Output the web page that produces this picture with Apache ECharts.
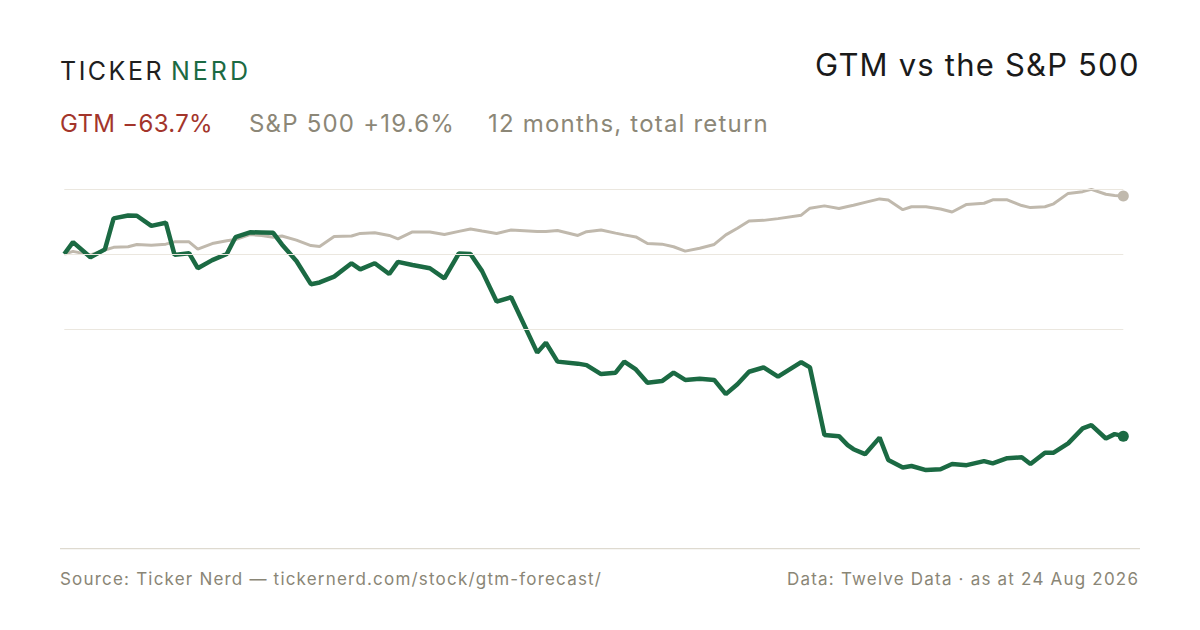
<!DOCTYPE html>
<html>
<head>
<meta charset="utf-8">
<script src="https://cdn.jsdelivr.net/npm/echarts@6/dist/echarts.min.js"></script>
<style>
  html, body { margin: 0; padding: 0; background: #ffffff; }
  #chart { width: 1200px; height: 630px; }
  #chart svg text { letter-spacing: 1.2px; }
</style>
</head>
<body>
<div id="chart"></div>
<script>
// Days since the start of the 12-month window (24 Aug 2025 -> 24 Aug 2026)
const dayOffsets = [0, 3, 9, 14, 17, 22, 25, 30, 35, 38,
  43, 46, 51, 56, 59, 64, 68, 72, 75, 80,
  85, 88, 93, 99, 102, 107, 112, 115, 120, 126,
  131, 136, 140, 144, 149, 154, 163, 166, 170, 177,
  180, 185, 190, 193, 197, 201, 206, 210, 214, 219,
  224, 228, 232, 236, 241, 246, 254, 257, 262, 267,
  270, 272, 276, 281, 284, 289, 292, 297, 302, 306,
  311, 317, 320, 325, 330, 333, 338, 341, 346, 351,
  354, 359, 362, 365];

// Cumulative total return, % (GTM)
const gtmReturn = [0, 4.1, -1.1, 1.6, 12.3, 13.3, 13.2, 9.7, 10.8, -0.3,
  0.3, -4.9, -2.1, 0, 5.8, 7.5, 7.4, 7.3, 3.3, -2.4,
  -10.4, -9.8, -7.8, -3.2, -5.3, -3.2, -6.9, -2.7, -3.8, -4.9,
  -8.4, 0.2, 0, -5.9, -16.4, -14.9, -34.0, -30.6, -37.1, -37.8,
  -38.3, -41.4, -40.9, -37.1, -39.8, -44.4, -43.8, -40.9, -43.4, -43.0,
  -43.4, -48.3, -44.9, -40.6, -39.1, -42.3, -37.3, -39.1, -62.4, -62.8,
  -65.9, -67.3, -69.0, -63.3, -71.0, -73.6, -73.1, -74.5, -74.2, -72.4,
  -72.8, -71.4, -72.2, -70.4, -70.1, -72.4, -68.5, -68.5, -65.3, -60.1,
  -59.0, -63.6, -62.1, -62.8];

// Cumulative total return, % (S&P 500)
const spxReturn = [0, 0.9, -0.3, 1.4, 2.3, 2.5, 3.3, 3.0, 3.4, 4.2,
  4.2, 1.7, 3.6, 4.6, 5.0, 6.7, 6.4, 5.8, 6.2, 4.8,
  2.9, 2.6, 6.0, 6.2, 7.1, 7.3, 6.4, 5.2, 7.6, 7.6,
  6.7, 7.8, 8.6, 7.9, 7.1, 8.3, 7.8, 7.8, 8.1, 6.4,
  7.7, 8.3, 7.2, 6.6, 5.9, 3.6, 3.4, 2.5, 1.0, 2.0,
  3.3, 6.6, 8.9, 11.4, 11.6, 12.2, 13.4, 15.8, 16.6, 15.7,
  16.4, 16.8, 17.8, 19.0, 18.6, 15.3, 16.3, 16.3, 15.5, 14.5,
  17.1, 17.5, 18.7, 18.7, 16.7, 16.0, 16.3, 17.3, 20.9, 21.5,
  22.3, 20.6, 20.2, 20.0];

// Horizontal reference lines (return %)
const gridValues = [22.3, 0, -26.1];

// Header / footer text
const brandLeft = 'TICKER';
const brandRight = 'NERD';
const titleText = 'GTM vs the S&P 500';
const gtmLabel = 'GTM \u221263.7%';
const spxLabel = 'S&P 500 +19.6%';
const periodLabel = '12 months, total return';
const sourceText = 'Source: Ticker Nerd \u2014 tickernerd.com/stock/gtm-forecast/';
const dataText = 'Data: Twelve Data \u00b7 as at 24 Aug 2026';

const GREEN = '#1b6a43';
const SPX = '#c0b9ad';
const FONT = 'Inter, "Noto Sans", sans-serif';

function buildData(values, color) {
  return values.map((v, i) => {
    const item = { value: [dayOffsets[i], v] };
    if (i === values.length - 1) {
      item.symbol = 'circle';
      item.symbolSize = 11;
      item.itemStyle = { color: color };
    }
    return item;
  });
}

const chart = echarts.init(document.getElementById('chart'), null, { renderer: 'svg' });

chart.setOption({
  animation: false,
  backgroundColor: '#ffffff',
  grid: { left: 64.3, right: 76.7, top: 169.9, bottom: 81.3, containLabel: false },
  xAxis: { type: 'value', min: 0, max: 365, show: false },
  yAxis: { type: 'value', min: -101.6, max: 29, show: false },
  series: [
    {
      name: 'grid',
      type: 'line',
      data: [],
      z: 1,
      silent: true,
      markLine: {
        silent: true,
        symbol: ['none', 'none'],
        label: { show: false },
        lineStyle: { color: '#ebe7df', width: 1, type: 'solid' },
        data: gridValues.map(v => ({ yAxis: v }))
      }
    },
    {
      name: 'S&P 500',
      type: 'line',
      z: 3,
      data: buildData(spxReturn, SPX),
      symbol: 'none',
      showSymbol: true,
      lineStyle: { color: SPX, width: 3 },
      itemStyle: { color: SPX },
      silent: true
    },
    {
      name: 'GTM',
      type: 'line',
      z: 4,
      data: buildData(gtmReturn, GREEN),
      symbol: 'none',
      showSymbol: true,
      lineStyle: { color: GREEN, width: 4.5 },
      itemStyle: { color: GREEN },
      silent: true
    }
  ],
  graphic: [
    { type: 'line', shape: { x1: 60, y1: 548.7, x2: 1140, y2: 548.7 },
      style: { stroke: '#dedad0', lineWidth: 1.2 }, silent: true },
    { type: 'text', left: 60, top: 58,
      style: { text: brandLeft, fill: '#1f1f1f', font: '400 25px ' + FONT } },
    { type: 'text', left: 171, top: 58,
      style: { text: brandRight, fill: GREEN, font: '400 25px ' + FONT } },
    { type: 'text', left: 815, top: 49,
      style: { text: titleText, fill: '#1a1a1a', font: '400 31px ' + FONT } },
    { type: 'text', left: 60, top: 111,
      style: { text: gtmLabel, fill: '#a3352b', font: '400 24px ' + FONT } },
    { type: 'text', left: 249, top: 111,
      style: { text: spxLabel, fill: '#8c8777', font: '400 24px ' + FONT } },
    { type: 'text', left: 488, top: 111,
      style: { text: periodLabel, fill: '#8c8777', font: '400 24px ' + FONT } },
    { type: 'text', left: 60, top: 570,
      style: { text: sourceText, fill: '#8a8676', font: '400 17px ' + FONT } },
    { type: 'text', left: 787, top: 570,
      style: { text: dataText, fill: '#8a8676', font: '400 17px ' + FONT } }
  ]
});

// per-text letter spacing tweaks
const spacingFor = {};
spacingFor[brandLeft] = '2.5px';
spacingFor[brandRight] = '3px';
spacingFor[gtmLabel] = '0.3px';
function applySpacing() {
  document.querySelectorAll('#chart svg text').forEach(t => {
    const s = spacingFor[t.textContent];
    if (s) t.style.letterSpacing = s;
  });
}
applySpacing();
chart.on('finished', applySpacing);
setTimeout(applySpacing, 50);
</script>
</body>
</html>
